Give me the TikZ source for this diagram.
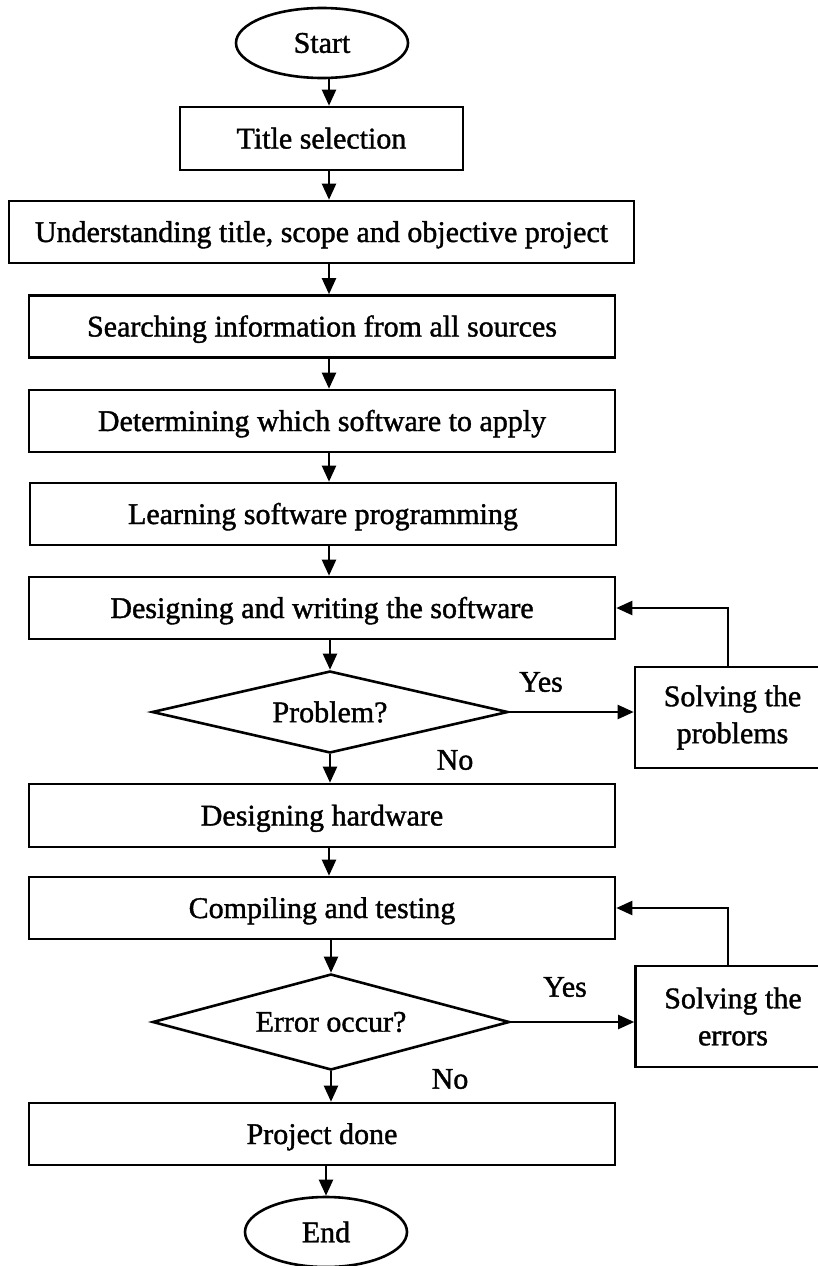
\documentclass[tikz,border=0pt]{standalone}
\usepackage{fontspec}
\setmainfont[UprightFeatures={FakeBold=1.3}]{Liberation Serif}
\usetikzlibrary{shapes.geometric,arrows.meta}
\begin{document}
\begin{tikzpicture}[x=1pt,y=-1pt,
  every node/.style={font=\fontsize{30}{37}\selectfont},
  proc/.style={draw, line width=2.6pt, minimum width=586pt, minimum height=62pt, inner sep=0pt, text height=20pt, text depth=0pt},
  term/.style={draw, ellipse, line width=2.6pt, minimum width=172pt, minimum height=70pt, inner sep=0pt},
  decide/.style={draw, diamond, line width=2.6pt, inner sep=0pt, shape aspect=4.3},
  fixbox/.style={draw, line width=2.6pt, minimum width=195pt, minimum height=101pt, inner sep=0pt, align=center},
  lbl/.style={inner sep=0pt},
  arr/.style={line width=2.2pt, -{Triangle[length=16pt,width=14pt]}}]
\useasboundingbox (0,0) rectangle (818,1266);
\clip (0,0) rectangle (818,1266);
\fill[white] (0,0) rectangle (818,1266);
\coordinate (ax) at (329,0);
\coordinate (fb) at (728,0);

\node[term] (start) at (322,43) {Start};
\node[proc, minimum width=283pt, minimum height=63pt] (title) at (321.5,138.5) {Title selection};
\node[proc, minimum width=625pt] (under) at (321.5,232) {Understanding title, scope and objective project};
\node[proc] (search) at (322,326.5) {Searching information from all sources};
\node[proc] (determ) at (322,421) {Determining which software to apply};
\node[proc] (learn) at (323,514) {Learning software programming};
\node[proc] (design) at (322,608) {Designing and writing the software};
\node[decide, minimum width=356pt, minimum height=82pt] (prob) at (330,712) {Problem?};
\node[fixbox] (solve1) at (732.5,717.5) {Solving the\\problems};
\node[proc, minimum height=63pt] (hard) at (322,815.5) {Designing hardware};
\node[proc] (comp) at (322,908) {Compiling and testing};
\node[decide, minimum width=357pt, minimum height=96pt] (err) at (331,1022) {Error occur?};
\node[fixbox] (solve2) at (733,1016.5) {Solving the\\errors};
\node[proc] (done) at (322,1134) {Project done};
\node[term, minimum width=162pt] (end) at (326,1232) {End};

\node[lbl] (yes1) at (541,682) {Yes};
\node[lbl] (no1) at (455,760) {No};
\node[lbl] (yes2) at (565,987) {Yes};
\node[lbl] (no2) at (450,1079) {No};

\draw[arr] (start.south -| ax) -- (title.north -| ax);
\draw[arr] (title.south -| ax) -- (under.north -| ax);
\draw[arr] (under.south -| ax) -- (search.north -| ax);
\draw[arr] (search.south -| ax) -- (determ.north -| ax);
\draw[arr] (determ.south -| ax) -- (learn.north -| ax);
\draw[arr] (learn.south -| ax) -- (design.north -| ax);
\draw[arr] (design.south -| prob.north) -- (prob.north);
\draw[arr] (prob.south) -- (prob.south |- hard.north);
\draw[arr] (prob.east) -- (prob.east -| solve1.west);
\draw[arr] (solve1.north -| fb) |- (design.east);
\draw[arr] (hard.south -| ax) -- (comp.north -| ax);
\draw[arr] (comp.south -| err.north) -- (err.north);
\draw[arr] (err.south) -- (err.south |- done.north);
\draw[arr] (err.east) -- (err.east -| solve2.west);
\draw[arr] (solve2.north -| fb) |- (comp.east);
\draw[arr] (done.south -| end.north) -- (end.north);
\end{tikzpicture}
\end{document}
